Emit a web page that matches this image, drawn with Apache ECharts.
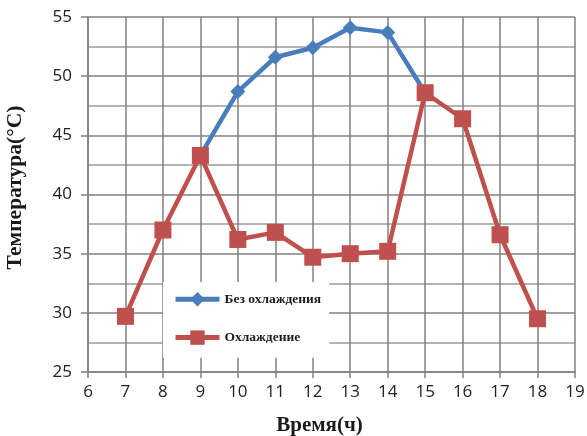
<!DOCTYPE html>
<html><head><meta charset="utf-8">
<script src="https://cdn.jsdelivr.net/npm/echarts@6/dist/echarts.min.js"></script>
<style>html,body{margin:0;padding:0;background:#fff}#c{width:587px;height:436px}</style>
</head><body><div id="c"></div>
<script>
const hours = [7, 8, 9, 10, 11, 12, 13, 14, 15, 16, 17, 18];
const noCooling = [null, null, 43.3, 48.7, 51.6, 52.4, 54.1, 53.7, 48.6, null, null, null];
const cooling = [29.7, 37.0, 43.3, 36.2, 36.8, 34.7, 35.0, 35.2, 48.6, 46.4, 36.6, 29.5];
const seriesNames = ['Без охлаждения', 'Охлаждение'];
const xTitle = 'Время(ч)';
const yTitle = 'Температура(°C)';

const pairs = v => hours.map((h, i) => v[i] == null ? null : [h, v[i]]).filter(p => p);
const chart = echarts.init(document.getElementById('c'));
const grid = '#808080';
chart.setOption({
  animation: false,
  grid: { left: 88, right: 12, top: 17, bottom: 64, outerBoundsMode: 'none', containLabel: false },
  xAxis: {
    type: 'value', min: 6, max: 19, interval: 1,
    name: xTitle, nameLocation: 'middle', nameGap: 43,
    nameTextStyle: { fontFamily: 'Liberation Serif', fontWeight: 'bold', fontSize: 21, color: '#1a1a1a', padding: [0, 24, 0, 0] },
    axisLine: { lineStyle: { color: grid, width: 1.5 } },
    axisTick: { show: true, length: 6, lineStyle: { color: grid, width: 1.5 } },
    axisLabel: { fontFamily: 'Open Sans', fontSize: 17, color: '#222', margin: 12 },
    splitLine: { show: true, lineStyle: { color: grid, width: 1.5 } }
  },
  yAxis: {
    type: 'value', min: 25, max: 55, interval: 5,
    name: yTitle, nameLocation: 'middle', nameGap: 62, nameRotate: 90,
    nameTextStyle: { fontFamily: 'Liberation Serif', fontWeight: 'bold', fontSize: 21.5, color: '#1a1a1a', padding: [0, 0, 0, 14] },
    axisLine: { show: true, lineStyle: { color: grid, width: 1.5 } },
    axisTick: { show: true, length: 7, lineStyle: { color: grid, width: 1.5 } },
    axisLabel: { fontFamily: 'Open Sans', fontSize: 17, color: '#222', margin: 16 },
    splitLine: { show: true, lineStyle: { color: grid, width: 1.5 } },
    minorTick: { show: false, splitNumber: 2 },
    minorSplitLine: { show: true, lineStyle: { color: '#9a9a9a', width: 1.5 } }
  },
  legend: {
    orient: 'vertical', left: 163, top: 282,
    backgroundColor: '#fff', padding: [10, 8, 13, 10], itemGap: 24,
    itemWidth: 44, itemHeight: 18,
    lineStyle: { width: 5 },
    textStyle: { fontFamily: 'Liberation Serif', fontWeight: 'bold', fontSize: 13.5, color: '#1a1a1a' },
    data: seriesNames
  },
  series: [
    { name: seriesNames[0], type: 'line', data: pairs(noCooling), symbol: 'diamond', symbolSize: 15,
      itemStyle: { color: '#4a7ebb' }, lineStyle: { width: 4.5, color: '#4a7ebb' }, z: 2 },
    { name: seriesNames[1], type: 'line', data: pairs(cooling), symbol: 'rect', symbolSize: 17,
      itemStyle: { color: '#c0504d' }, lineStyle: { width: 4.5, color: '#c0504d' }, z: 3 }
  ]
});
</script></body></html>
